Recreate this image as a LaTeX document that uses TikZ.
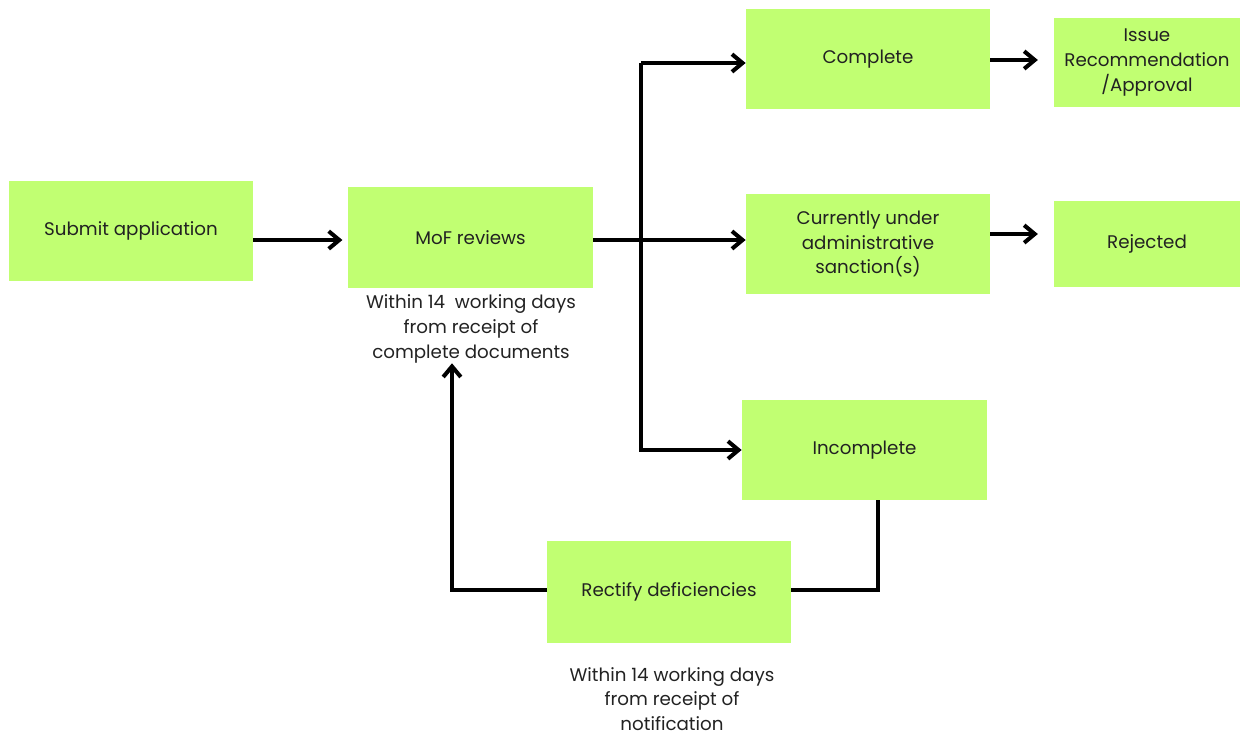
\documentclass[tikz,border=0pt]{standalone}
\usepackage{fontspec}
\setmainfont{Poppins}
\usetikzlibrary{arrows.meta}
\definecolor{boxgreen}{HTML}{C1FF72}
\definecolor{textgray}{HTML}{222222}
\tikzset{
	stepbox/.style={fill=boxgreen,inner sep=0pt,align=center,text=textgray,font=\fontsize{10.4}{14}\selectfont},
	note/.style={inner sep=0pt,align=center,text=textgray,font=\fontsize{10.4}{14}\selectfont},
	flow/.style={line width=2.3pt,-{Straight Barb[length=6pt,width=10pt]}},
	link/.style={line width=2.3pt}
}
\begin{document}
\begin{tikzpicture}[x=0.02cm,y=-0.02cm]
		\useasboundingbox (0,0) rectangle (1248,735);
		
		\node[stepbox,minimum width=4.88cm,minimum height=2cm] (submit) at (131,231) {Submit application};
		\node[stepbox,minimum width=4.9cm,minimum height=2.02cm] (mof) at (470.5,237.5) {MoF reviews};
		\node[stepbox,minimum width=4.88cm,minimum height=2cm] (complete) at (868,59) {Complete};
		\node[stepbox,minimum width=3.72cm,minimum height=1.78cm] (issue) at (1147,62.5) {Issue\\Recommendation\\/Approval};
		\node[stepbox,minimum width=4.88cm,minimum height=2cm] (sanction) at (868,244) {Currently under\\administrative\\sanction(s)};
		\node[stepbox,minimum width=3.72cm,minimum height=1.72cm] (rejected) at (1147,244) {Rejected};
		\node[stepbox,minimum width=4.9cm,minimum height=2cm] (incomplete) at (864.5,450) {Incomplete};
		\node[stepbox,minimum width=4.88cm,minimum height=2.04cm] (rectify) at (669,592) {Rectify deficiencies};
		
		\node[note] (mofnote) at (471,329) {Within 14\ \ working days\\from receipt of\\complete documents};
		\node[note] (rectifynote) at (672,699) {Within 14 working days\\from receipt of\\notification};
		
		\coordinate (split) at (641,240);
		
		\draw[flow,shorten >=3pt] (submit.east |- 0,240) -- (mof.west |- 0,240);
		\draw[link] (mof.east |- split) -- (split);
		\draw[flow] (641,63) |- (complete.west |- 0,63);
		\draw[link] (split) -- (641,63);
		\draw[flow] (split) -- (sanction.west |- split);
		\draw[flow] (split) |- (incomplete.west);
		\draw[flow,shorten >=9pt] (complete.east |- 0,60) -- (issue.west |- 0,60);
		\draw[flow,shorten >=9pt] (sanction.east |- 0,234) -- (rejected.west |- 0,234);
		
		\draw[link] (incomplete.south -| 878,0) |- (rectify.east |- 0,590);
		\draw[flow] (rectify.west |- 0,590) -| (mofnote.south -| 452,0);
	\end{tikzpicture}
\end{document}
